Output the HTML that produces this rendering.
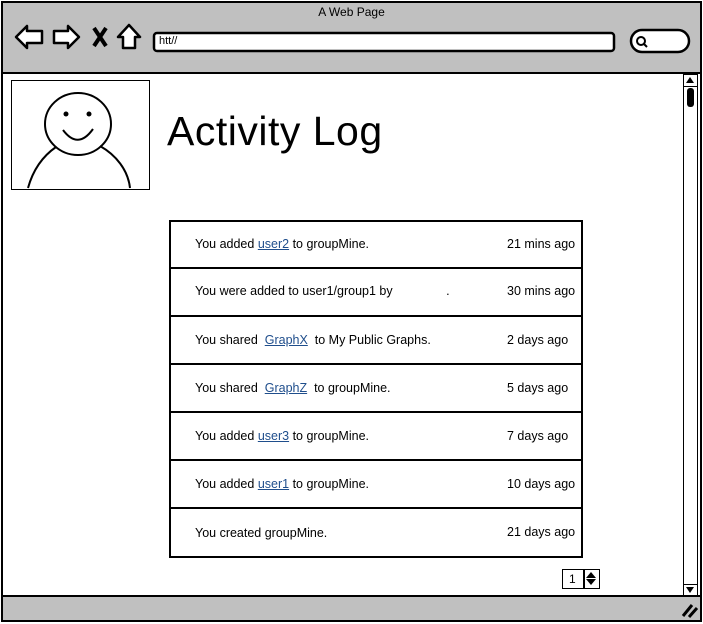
<!DOCTYPE html>
<html><head><meta charset="utf-8">
<style>
*{margin:0;padding:0;box-sizing:border-box}
body{width:703px;height:624px;background:#fff;position:relative;overflow:hidden;font-family:"Liberation Sans",sans-serif;color:#000}
.a{position:absolute}
.row{position:absolute;left:169px;width:414px;border:2px solid #000;background:#fff}
.t{position:absolute;left:24px;font-size:12.5px;white-space:nowrap}
.tm{position:absolute;left:336px;font-size:12.5px;white-space:nowrap}
.l{color:#1f4e8c;text-decoration:underline}
</style></head><body>
<div class="a" style="left:1px;top:1px;width:701px;height:621px;border:2px solid #000;background:#c0c0c0"></div>
<div class="a" style="left:3px;top:72px;width:697px;height:525px;background:#fff;border-top:2px solid #000;border-bottom:2px solid #000"></div>
<div class="a" style="left:0;top:5px;width:703px;text-align:center;font-size:12px">A Web Page</div>
<svg class="a" style="left:0;top:0" width="703" height="72">
<g fill="#fff" stroke="#000" stroke-width="2.5" stroke-linejoin="round">
<path d="M16 37 L27 26 L27 31 L42 31 L42 43 L27 43 L27 48 Z"/>
<path d="M79 37 L68 26 L68 31 L54 31 L54 43 L68 43 L68 48 Z"/>
<path d="M129 25 L140 37 L135 37 L135 48 L123 48 L123 37 L118 37 Z"/>
<rect x="154" y="33" width="460" height="18" rx="3"/>
<rect x="631" y="30" width="58" height="22" rx="11"/>
</g>
<path d="M94 28 L106 46 M106 28 L94 46" stroke="#000" stroke-width="4"/>
<circle cx="641" cy="41" r="4" fill="none" stroke="#000" stroke-width="2"/>
<path d="M644 44 L647 47" stroke="#000" stroke-width="2"/>
</svg>
<div class="a" style="left:159px;top:35px;font-size:11px">htt//</div>
<div class="a" style="left:683px;top:74px;width:15px;height:522px;border:1.5px solid #000;background:#fff"></div>
<div class="a" style="left:683px;top:74px;width:15px;height:13px;border:1.5px solid #000"></div>
<div class="a" style="left:686px;top:77px;width:0;height:0;border-left:4.5px solid transparent;border-right:4.5px solid transparent;border-bottom:6px solid #000"></div>
<div class="a" style="left:687px;top:88px;width:7px;height:19px;background:#000;border-radius:3px"></div>
<div class="a" style="left:683px;top:584px;width:15px;height:12px;border:1.5px solid #000"></div>
<div class="a" style="left:686px;top:587px;width:0;height:0;border-left:4.5px solid transparent;border-right:4.5px solid transparent;border-top:6px solid #000"></div>
<svg class="a" style="left:680px;top:600px" width="20" height="20"><path d="M3 16 L12 5 M9 17 L17 8" stroke="#000" stroke-width="3"/></svg>
<div class="a" style="left:11px;top:80px;width:139px;height:110px;border:1.5px solid #000;background:#fff"></div>
<svg class="a" style="left:11px;top:80px" width="139" height="110">
<g fill="none" stroke="#000" stroke-width="2">
<ellipse cx="67" cy="44" rx="33" ry="31"/>
<path d="M17 108 C22 90 32 76 45 67"/>
<path d="M89 66 C105 75 117 90 119 108"/>
<path d="M52 50 Q67 70 82 49"/>
</g>
<circle cx="55" cy="34" r="2.5" fill="#000"/><circle cx="78" cy="34" r="2.5" fill="#000"/>
</svg>
<div class="a" style="left:167px;top:108px;font-size:41px;letter-spacing:0.5px">Activity Log</div>
<div class="row" style="top:220px;height:49px"><span class="t" style="top:15px">You added <span class="l">user2</span> to groupMine.</span><span class="tm" style="top:15px">21 mins ago</span></div>
<div class="row" style="top:267px;height:50px"><span class="t" style="top:15px">You were added to user1/group1 by <span style="margin-left:50px">.</span></span><span class="tm" style="top:15px">30 mins ago</span></div>
<div class="row" style="top:315px;height:50px"><span class="t" style="top:16px">You shared &nbsp;<span class="l">GraphX</span>&nbsp; to My Public Graphs.</span><span class="tm" style="top:16px">2 days ago</span></div>
<div class="row" style="top:363px;height:50px"><span class="t" style="top:16px">You shared &nbsp;<span class="l">GraphZ</span>&nbsp; to groupMine.</span><span class="tm" style="top:16px">5 days ago</span></div>
<div class="row" style="top:411px;height:50px"><span class="t" style="top:16px">You added <span class="l">user3</span> to groupMine.</span><span class="tm" style="top:16px">7 days ago</span></div>
<div class="row" style="top:459px;height:50px"><span class="t" style="top:16px">You added <span class="l">user1</span> to groupMine.</span><span class="tm" style="top:16px">10 days ago</span></div>
<div class="row" style="top:507px;height:51px"><span class="t" style="top:17px">You created groupMine.</span><span class="tm" style="top:16px">21 days ago</span></div>
<div class="a" style="left:562px;top:569px;width:38px;height:20px;border:1.5px solid #000;background:#fff"></div>
<div class="a" style="left:583px;top:569px;width:1.5px;height:20px;background:#000"></div>
<div class="a" style="left:569px;top:572px;font-size:12px">1</div>
<div class="a" style="left:586px;top:572px;width:0;height:0;border-left:5px solid transparent;border-right:5px solid transparent;border-bottom:6px solid #000"></div>
<div class="a" style="left:586px;top:579px;width:0;height:0;border-left:5px solid transparent;border-right:5px solid transparent;border-top:6px solid #000"></div>
</body></html>
